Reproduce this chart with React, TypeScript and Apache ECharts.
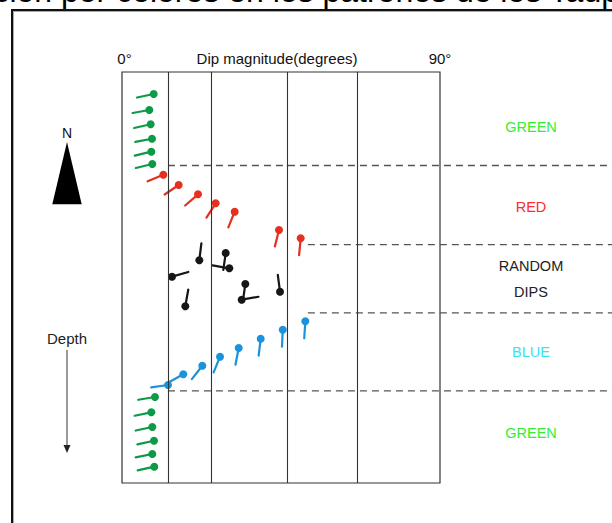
import React, { useEffect, useRef } from "react";
import * as echarts from "echarts";

// ---- data ----
const TITLE_TEXT = "ción por colores en los patrones de los Tadpoles";
const AXIS_TITLE = "Dip magnitude(degrees)";
const DIP_MIN = 0;
const DIP_MAX = 90;
const DEPTH_MIN = 0;
const DEPTH_MAX = 100;
const dipGridLines = [13.0, 25.2, 46.7, 66.5];

// tadpoles: [dip (deg), depth, azimuth (deg, clockwise from N)]
const greenTop: number[][] = [
  [8.97, 5.35, 258],
  [7.73, 9.25, 260],
  [8.12, 12.72, 257.5],
  [8.49, 16.23, 259],
  [8.29, 19.39, 256.5],
  [8.58, 22.38, 256.5],
];
const redZone: number[][] = [
  [11.69, 24.99, 247],
  [16.05, 27.49, 236],
  [21.51, 29.76, 229],
  [26.52, 31.95, 213],
  [31.9, 33.99, 202],
  [44.43, 38.44, 194],
  [50.58, 40.46, 185.5],
];
const randomZone: number[][] = [
  [21.88, 45.81, 7],
  [14.15, 49.8, 74],
  [17.92, 57.0, 10],
  [29.35, 44.04, 188],
  [30.37, 47.76, 280],
  [34.9, 51.58, 188],
  [33.88, 55.4, 80],
  [44.72, 53.45, 352.5],
];
const blueZone: number[][] = [
  [13.02, 76.15, 262],
  [17.35, 73.55, 241],
  [22.73, 71.46, 218],
  [27.74, 69.27, 202],
  [33.03, 67.15, 191],
  [39.26, 64.89, 187],
  [45.49, 62.7, 182.5],
  [51.88, 60.66, 183.6],
];
const greenBottom: number[][] = [
  [9.34, 79.08, 260.7],
  [8.29, 82.8, 258.4],
  [8.58, 86.37, 258],
  [9.06, 89.71, 257.7],
  [8.58, 92.94, 258.4],
  [9.14, 96.03, 257.7],
];

const boundaryDepths = [22.75, 42.0, 58.6, 77.6];
const boundaryStartDips = [13.0, 52.6, 52.6, 13.0];

const zoneNames = ["GREEN", "RED", "RANDOM\nDIPS", "BLUE", "GREEN"];
const zoneLabelDepths = [13.4, 32.8, 50.4, 68.1, 87.8];

// ---- styles ----
const FONT = "'Liberation Sans', Arial, Helvetica, sans-serif";
const zoneLabelColors = ["#33ee33", "#ff2a2a", "#222222", "#33e6f2", "#33ee33"];

function tadpoleSeries(name: string, data: number[][], color: string) {
  return {
    name,
    type: "custom",
    coordinateSystem: "cartesian2d",
    data,
    clip: false,
    silent: true,
    renderItem: (_params: any, api: any) => {
      const p = api.coord([api.value(0), api.value(1)]);
      const az = (api.value(2) * Math.PI) / 180;
      const L = 17;
      const ex = p[0] + L * Math.sin(az);
      const ey = p[1] - L * Math.cos(az);
      return {
        type: "group",
        children: [
          {
            type: "line",
            shape: { x1: p[0], y1: p[1], x2: ex, y2: ey },
            style: { stroke: color, lineWidth: 2.2, lineCap: "round" },
          },
          {
            type: "circle",
            shape: { cx: p[0], cy: p[1], r: 4 },
            style: { fill: color },
          },
        ],
      };
    },
  };
}

export default function App() {
  const ref = useRef<HTMLDivElement>(null);

  useEffect(() => {
    if (!ref.current) return;
    const chart = echarts.init(ref.current, undefined, { renderer: "svg" });

    const option: any = {
      animation: false,
      backgroundColor: "#ffffff",
      grid: {
        left: 122,
        top: 72,
        width: 318,
        height: 411,
        show: true,
        borderColor: "#333333",
        borderWidth: 1.2,
        backgroundColor: "transparent",
      },
      xAxis: {
        type: "value",
        position: "top",
        min: DIP_MIN,
        max: DIP_MAX,
        interval: 90,
        axisLine: { show: false },
        axisTick: { show: false },
        splitLine: { show: false },
        axisLabel: {
          margin: 6,
          fontSize: 15,
          fontFamily: FONT,
          color: "#111",
          formatter: (v: number) => (v === 0 ? "{a|" + v + "°}" : v + "°"),
          rich: { a: { fontSize: 15, fontFamily: FONT, color: "#111", padding: [0, 0, 0, 5] } },
        },
      },
      yAxis: {
        type: "value",
        inverse: true,
        min: DEPTH_MIN,
        max: DEPTH_MAX,
        show: false,
      },
      series: [
        {
          name: "grid lines",
          type: "line",
          data: [],
          silent: true,
          markLine: {
            silent: true,
            symbol: "none",
            label: { show: false },
            lineStyle: { color: "#333333", width: 1.1, type: "solid" },
            data: dipGridLines.map((d) => ({ xAxis: d })),
          },
        },
        {
          name: "boundaries",
          type: "custom",
          coordinateSystem: "cartesian2d",
          data: boundaryDepths.map((d, i) => [boundaryStartDips[i], d]),
          clip: false,
          silent: true,
          renderItem: (_params: any, api: any) => {
            const p = api.coord([api.value(0), api.value(1)]);
            return {
              type: "line",
              shape: { x1: p[0], y1: p[1], x2: api.getWidth(), y2: p[1] },
              style: { stroke: "#555555", lineWidth: 1.3, lineDash: [7, 5] },
            };
          },
        },
        {
          name: "zone labels",
          type: "custom",
          coordinateSystem: "cartesian2d",
          data: zoneLabelDepths.map((d, i) => [0, d, i]),
          clip: false,
          silent: true,
          renderItem: (_params: any, api: any) => {
            const p = api.coord([api.value(0), api.value(1)]);
            const i = api.value(2);
            return {
              type: "text",
              x: 531,
              y: p[1],
              style: {
                text: zoneNames[i],
                fill: zoneLabelColors[i],
                fontSize: 14.5,
                fontFamily: FONT,
                align: "center",
                verticalAlign: "middle",
                lineHeight: 26,
              },
            };
          },
        },
        tadpoleSeries("GREEN (top)", greenTop, "#0c9a48"),
        tadpoleSeries("RED", redZone, "#e3301f"),
        tadpoleSeries("RANDOM DIPS", randomZone, "#161616"),
        tadpoleSeries("BLUE", blueZone, "#1a93dc"),
        tadpoleSeries("GREEN (bottom)", greenBottom, "#0c9a48"),
      ],
      graphic: [
        {
          type: "text",
          x: -6.6,
          y: -9,
          style: {
            text: TITLE_TEXT,
            fontSize: 32,
            fontFamily: FONT,
            fill: "#000",
            verticalAlign: "middle",
            align: "left",
          },
        },
        { type: "rect", shape: { x: 11, y: 9, width: 601, height: 2 }, style: { fill: "#111" } },
        { type: "rect", shape: { x: 13, y: 11, width: 599, height: 1 }, style: { fill: "#aaa" } },
        { type: "rect", shape: { x: 11, y: 9, width: 2, height: 514 }, style: { fill: "#111" } },
        { type: "rect", shape: { x: 13, y: 11, width: 1, height: 512 }, style: { fill: "#aaa" } },
        {
          type: "text",
          x: 277,
          y: 58.5,
          style: {
            text: AXIS_TITLE,
            fontSize: 15,
            fontFamily: FONT,
            fill: "#111",
            align: "center",
            verticalAlign: "middle",
          },
        },
        {
          type: "text",
          x: 67,
          y: 132.5,
          style: { text: "N", fontSize: 14, fontFamily: FONT, fill: "#111", align: "center", verticalAlign: "middle" },
        },
        {
          type: "polygon",
          shape: { points: [[67, 142], [52.3, 204.3], [81.7, 204.3]] },
          style: { fill: "#000" },
        },
        {
          type: "text",
          x: 67,
          y: 338,
          style: { text: "Depth", fontSize: 15, fontFamily: FONT, fill: "#222", align: "center", verticalAlign: "middle" },
        },
        {
          type: "line",
          shape: { x1: 67, y1: 350, x2: 67, y2: 447 },
          style: { stroke: "#555", lineWidth: 1.2 },
        },
        {
          type: "polygon",
          shape: { points: [[63.5, 445], [70.5, 445], [67, 453]] },
          style: { fill: "#222" },
        },
      ],
    };

    chart.setOption(option);
    return () => chart.dispose();
  }, []);

  return (
    <div
      ref={ref}
      style={{ position: "fixed", left: 0, top: 0, width: 612, height: 523, background: "#fff" }}
    />
  );
}
